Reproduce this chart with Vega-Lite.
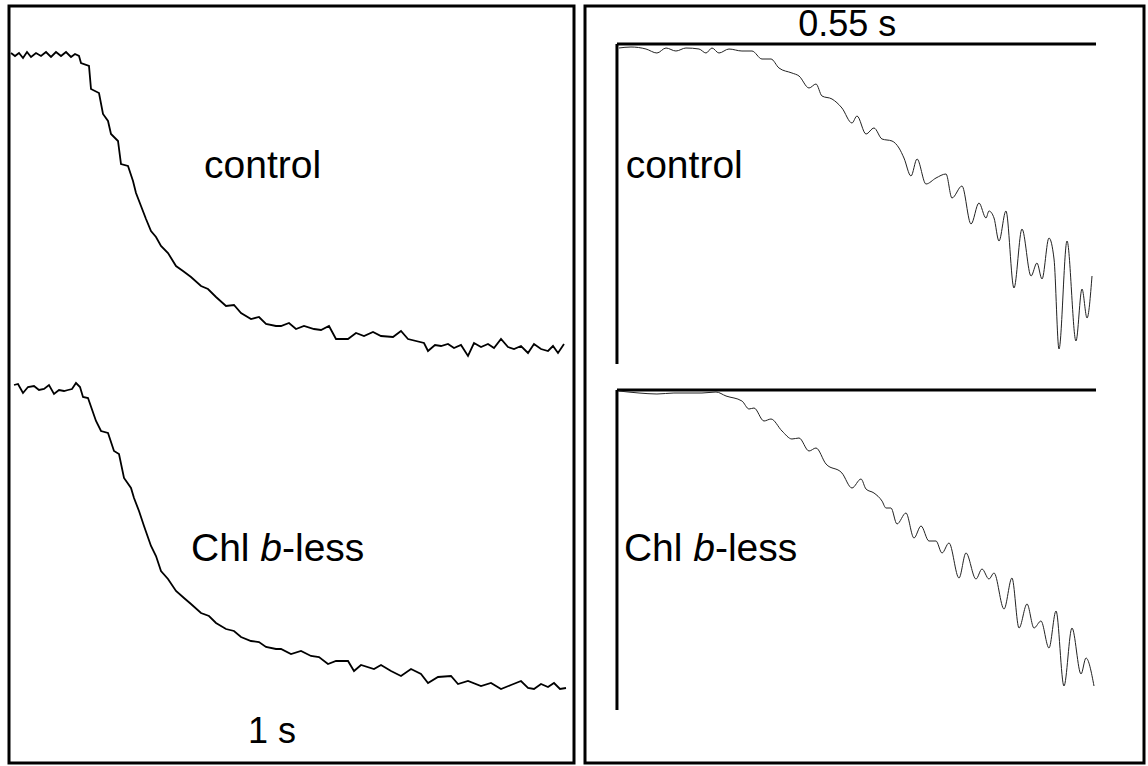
{
  "$schema": "https://vega.github.io/schema/vega-lite/v6.json",
  "background": "white",
  "padding": {"left": 5, "top": 4, "right": 0, "bottom": 0},
  "spacing": 7,
  "config": {"view": {"stroke": "black", "strokeWidth": 3}},
  "datasets": {
    "leftTraces": [
      {"trace":"control","t":0.02,"s":7.10},{"trace":"control","t":0.06,"s":7.07},{"trace":"control","t":0.10,"s":7.10},{"trace":"control","t":0.14,"s":7.05},{"trace":"control","t":0.18,"s":7.11},{"trace":"control","t":0.22,"s":7.06},{"trace":"control","t":0.27,"s":7.10},{"trace":"control","t":0.32,"s":7.07},{"trace":"control","t":0.37,"s":7.11},{"trace":"control","t":0.42,"s":7.06},{"trace":"control","t":0.47,"s":7.11},{"trace":"control","t":0.52,"s":7.07},{"trace":"control","t":0.57,"s":7.11},{"trace":"control","t":0.62,"s":7.06},{"trace":"control","t":0.66,"s":7.09},{"trace":"control","t":0.70,"s":7.07},{"trace":"control","t":0.72,"s":7.00},{"trace":"control","t":0.80,"s":6.97},{"trace":"control","t":0.82,"s":6.74},{"trace":"control","t":0.90,"s":6.70},{"trace":"control","t":0.94,"s":6.49},{"trace":"control","t":0.99,"s":6.42},{"trace":"control","t":1.02,"s":6.29},{"trace":"control","t":1.09,"s":6.22},{"trace":"control","t":1.12,"s":5.99},{"trace":"control","t":1.19,"s":5.97},{"trace":"control","t":1.24,"s":5.82},{"trace":"control","t":1.27,"s":5.70},{"trace":"control","t":1.32,"s":5.57},{"trace":"control","t":1.37,"s":5.44},{"trace":"control","t":1.42,"s":5.32},{"trace":"control","t":1.47,"s":5.26},{"trace":"control","t":1.52,"s":5.17},{"trace":"control","t":1.59,"s":5.10},{"trace":"control","t":1.67,"s":4.97},{"trace":"control","t":1.74,"s":4.92},{"trace":"control","t":1.82,"s":4.86},{"trace":"control","t":1.92,"s":4.77},{"trace":"control","t":1.99,"s":4.74},{"trace":"control","t":2.07,"s":4.66},{"trace":"control","t":2.17,"s":4.57},{"trace":"control","t":2.25,"s":4.58},{"trace":"control","t":2.32,"s":4.50},{"trace":"control","t":2.42,"s":4.44},{"trace":"control","t":2.50,"s":4.46},{"trace":"control","t":2.57,"s":4.39},{"trace":"control","t":2.67,"s":4.37},{"trace":"control","t":2.72,"s":4.37},{"trace":"control","t":2.80,"s":4.40},{"trace":"control","t":2.87,"s":4.34},{"trace":"control","t":2.95,"s":4.37},{"trace":"control","t":3.05,"s":4.34},{"trace":"control","t":3.12,"s":4.33},{"trace":"control","t":3.20,"s":4.37},{"trace":"control","t":3.27,"s":4.24},{"trace":"control","t":3.39,"s":4.24},{"trace":"control","t":3.47,"s":4.30},{"trace":"control","t":3.55,"s":4.27},{"trace":"control","t":3.64,"s":4.31},{"trace":"control","t":3.72,"s":4.27},{"trace":"control","t":3.84,"s":4.26},{"trace":"control","t":3.92,"s":4.32},{"trace":"control","t":3.99,"s":4.24},{"trace":"control","t":4.15,"s":4.20},{"trace":"control","t":4.19,"s":4.12},{"trace":"control","t":4.26,"s":4.18},{"trace":"control","t":4.32,"s":4.17},{"trace":"control","t":4.39,"s":4.19},{"trace":"control","t":4.45,"s":4.15},{"trace":"control","t":4.52,"s":4.18},{"trace":"control","t":4.59,"s":4.07},{"trace":"control","t":4.65,"s":4.20},{"trace":"control","t":4.72,"s":4.16},{"trace":"control","t":4.79,"s":4.19},{"trace":"control","t":4.85,"s":4.15},{"trace":"control","t":4.92,"s":4.24},{"trace":"control","t":4.99,"s":4.16},{"trace":"control","t":5.05,"s":4.14},{"trace":"control","t":5.12,"s":4.17},{"trace":"control","t":5.19,"s":4.10},{"trace":"control","t":5.25,"s":4.19},{"trace":"control","t":5.32,"s":4.14},{"trace":"control","t":5.39,"s":4.12},{"trace":"control","t":5.44,"s":4.17},{"trace":"control","t":5.49,"s":4.10},{"trace":"control","t":5.55,"s":4.19},
      {"trace":"chlb","t":0.05,"s":3.78},{"trace":"chlb","t":0.09,"s":3.79},{"trace":"chlb","t":0.14,"s":3.70},{"trace":"chlb","t":0.19,"s":3.76},{"trace":"chlb","t":0.25,"s":3.77},{"trace":"chlb","t":0.30,"s":3.73},{"trace":"chlb","t":0.35,"s":3.74},{"trace":"chlb","t":0.40,"s":3.78},{"trace":"chlb","t":0.45,"s":3.69},{"trace":"chlb","t":0.50,"s":3.73},{"trace":"chlb","t":0.55,"s":3.72},{"trace":"chlb","t":0.59,"s":3.73},{"trace":"chlb","t":0.63,"s":3.74},{"trace":"chlb","t":0.67,"s":3.80},{"trace":"chlb","t":0.71,"s":3.76},{"trace":"chlb","t":0.74,"s":3.66},{"trace":"chlb","t":0.79,"s":3.65},{"trace":"chlb","t":0.87,"s":3.42},{"trace":"chlb","t":0.92,"s":3.32},{"trace":"chlb","t":0.99,"s":3.30},{"trace":"chlb","t":1.05,"s":3.12},{"trace":"chlb","t":1.10,"s":3.09},{"trace":"chlb","t":1.15,"s":2.85},{"trace":"chlb","t":1.22,"s":2.75},{"trace":"chlb","t":1.25,"s":2.65},{"trace":"chlb","t":1.30,"s":2.52},{"trace":"chlb","t":1.35,"s":2.37},{"trace":"chlb","t":1.42,"s":2.17},{"trace":"chlb","t":1.47,"s":2.07},{"trace":"chlb","t":1.52,"s":1.92},{"trace":"chlb","t":1.59,"s":1.84},{"trace":"chlb","t":1.67,"s":1.72},{"trace":"chlb","t":1.75,"s":1.65},{"trace":"chlb","t":1.82,"s":1.59},{"trace":"chlb","t":1.92,"s":1.50},{"trace":"chlb","t":2.00,"s":1.47},{"trace":"chlb","t":2.07,"s":1.40},{"trace":"chlb","t":2.17,"s":1.34},{"trace":"chlb","t":2.25,"s":1.32},{"trace":"chlb","t":2.32,"s":1.26},{"trace":"chlb","t":2.42,"s":1.22},{"trace":"chlb","t":2.50,"s":1.21},{"trace":"chlb","t":2.57,"s":1.16},{"trace":"chlb","t":2.67,"s":1.14},{"trace":"chlb","t":2.72,"s":1.14},{"trace":"chlb","t":2.82,"s":1.09},{"trace":"chlb","t":2.92,"s":1.12},{"trace":"chlb","t":3.02,"s":1.07},{"trace":"chlb","t":3.10,"s":1.06},{"trace":"chlb","t":3.19,"s":0.99},{"trace":"chlb","t":3.27,"s":1.02},{"trace":"chlb","t":3.39,"s":1.02},{"trace":"chlb","t":3.45,"s":0.92},{"trace":"chlb","t":3.52,"s":0.98},{"trace":"chlb","t":3.65,"s":0.94},{"trace":"chlb","t":3.72,"s":0.98},{"trace":"chlb","t":3.82,"s":0.92},{"trace":"chlb","t":3.92,"s":0.87},{"trace":"chlb","t":4.02,"s":0.94},{"trace":"chlb","t":4.12,"s":0.89},{"trace":"chlb","t":4.19,"s":0.80},{"trace":"chlb","t":4.29,"s":0.86},{"trace":"chlb","t":4.42,"s":0.87},{"trace":"chlb","t":4.49,"s":0.79},{"trace":"chlb","t":4.59,"s":0.82},{"trace":"chlb","t":4.72,"s":0.77},{"trace":"chlb","t":4.82,"s":0.80},{"trace":"chlb","t":4.92,"s":0.74},{"trace":"chlb","t":5.02,"s":0.78},{"trace":"chlb","t":5.12,"s":0.82},{"trace":"chlb","t":5.19,"s":0.75},{"trace":"chlb","t":5.25,"s":0.74},{"trace":"chlb","t":5.32,"s":0.79},{"trace":"chlb","t":5.39,"s":0.76},{"trace":"chlb","t":5.45,"s":0.80},{"trace":"chlb","t":5.51,"s":0.74},{"trace":"chlb","t":5.57,"s":0.75}
    ],
    "rightTraces": [
      {"trace":"control","t":2.3,"s":7.15},{"trace":"control","t":16.1,"s":7.16},{"trace":"control","t":33.3,"s":7.14},{"trace":"control","t":45.9,"s":7.10},{"trace":"control","t":56.3,"s":7.15},{"trace":"control","t":67.7,"s":7.12},{"trace":"control","t":79.2,"s":7.15},{"trace":"control","t":94.2,"s":7.14},{"trace":"control","t":102.2,"s":7.10},{"trace":"control","t":109.1,"s":7.15},{"trace":"control","t":117.1,"s":7.10},{"trace":"control","t":128.6,"s":7.14},{"trace":"control","t":143.5,"s":7.12},{"trace":"control","t":155.0,"s":7.12},{"trace":"control","t":166.5,"s":7.04},{"trace":"control","t":176.8,"s":7.04},{"trace":"control","t":186.0,"s":6.95},{"trace":"control","t":200.9,"s":6.90},{"trace":"control","t":209.0,"s":6.87},{"trace":"control","t":220.5,"s":6.75},{"trace":"control","t":228.5,"s":6.79},{"trace":"control","t":235.4,"s":6.67},{"trace":"control","t":246.9,"s":6.64},{"trace":"control","t":258.3,"s":6.55},{"trace":"control","t":269.8,"s":6.40},{"trace":"control","t":275.6,"s":6.47},{"trace":"control","t":285.9,"s":6.29},{"trace":"control","t":295.1,"s":6.35},{"trace":"control","t":304.3,"s":6.24},{"trace":"control","t":315.8,"s":6.22},{"trace":"control","t":323.8,"s":6.15},{"trace":"control","t":329.5,"s":6.05},{"trace":"control","t":337.6,"s":5.87},{"trace":"control","t":344.5,"s":6.04},{"trace":"control","t":354.8,"s":5.79},{"trace":"control","t":366.3,"s":5.85},{"trace":"control","t":377.8,"s":5.89},{"trace":"control","t":384.6,"s":5.65},{"trace":"control","t":396.1,"s":5.77},{"trace":"control","t":406.5,"s":5.39},{"trace":"control","t":415.6,"s":5.60},{"trace":"control","t":423.7,"s":5.45},{"trace":"control","t":427.1,"s":5.52},{"trace":"control","t":432.9,"s":5.45},{"trace":"control","t":438.6,"s":5.22},{"trace":"control","t":446.6,"s":5.52},{"trace":"control","t":455.8,"s":4.75},{"trace":"control","t":465.0,"s":5.34},{"trace":"control","t":475.4,"s":4.87},{"trace":"control","t":482.2,"s":5.00},{"trace":"control","t":488.0,"s":4.84},{"trace":"control","t":496.0,"s":5.25},{"trace":"control","t":501.8,"s":5.04},{"trace":"control","t":507.5,"s":4.14},{"trace":"control","t":516.7,"s":5.22},{"trace":"control","t":527.0,"s":4.22},{"trace":"control","t":533.9,"s":4.74},{"trace":"control","t":539.7,"s":4.45},{"trace":"control","t":545.4,"s":4.87},
      {"trace":"chlb","t":2.3,"s":3.72},{"trace":"chlb","t":25.3,"s":3.70},{"trace":"chlb","t":45.9,"s":3.69},{"trace":"chlb","t":65.4,"s":3.70},{"trace":"chlb","t":97.6,"s":3.70},{"trace":"chlb","t":113.7,"s":3.71},{"trace":"chlb","t":125.2,"s":3.67},{"trace":"chlb","t":143.5,"s":3.62},{"trace":"chlb","t":151.6,"s":3.54},{"trace":"chlb","t":157.3,"s":3.55},{"trace":"chlb","t":168.8,"s":3.42},{"trace":"chlb","t":176.8,"s":3.44},{"trace":"chlb","t":189.5,"s":3.32},{"trace":"chlb","t":200.9,"s":3.24},{"trace":"chlb","t":209.0,"s":3.25},{"trace":"chlb","t":220.5,"s":3.12},{"trace":"chlb","t":228.5,"s":3.15},{"trace":"chlb","t":240.0,"s":2.99},{"trace":"chlb","t":258.3,"s":2.90},{"trace":"chlb","t":269.8,"s":2.75},{"trace":"chlb","t":280.2,"s":2.84},{"trace":"chlb","t":285.9,"s":2.74},{"trace":"chlb","t":295.1,"s":2.70},{"trace":"chlb","t":304.3,"s":2.62},{"trace":"chlb","t":308.9,"s":2.55},{"trace":"chlb","t":314.6,"s":2.55},{"trace":"chlb","t":321.5,"s":2.39},{"trace":"chlb","t":331.8,"s":2.50},{"trace":"chlb","t":341.0,"s":2.25},{"trace":"chlb","t":349.1,"s":2.37},{"trace":"chlb","t":358.2,"s":2.22},{"trace":"chlb","t":366.3,"s":2.22},{"trace":"chlb","t":373.2,"s":2.10},{"trace":"chlb","t":381.2,"s":2.20},{"trace":"chlb","t":392.7,"s":1.85},{"trace":"chlb","t":400.7,"s":2.10},{"trace":"chlb","t":412.2,"s":1.84},{"trace":"chlb","t":419.1,"s":1.94},{"trace":"chlb","t":427.1,"s":1.84},{"trace":"chlb","t":432.9,"s":1.90},{"trace":"chlb","t":444.4,"s":1.54},{"trace":"chlb","t":453.5,"s":1.85},{"trace":"chlb","t":461.6,"s":1.35},{"trace":"chlb","t":470.8,"s":1.59},{"trace":"chlb","t":478.8,"s":1.35},{"trace":"chlb","t":486.8,"s":1.42},{"trace":"chlb","t":496.0,"s":1.15},{"trace":"chlb","t":504.1,"s":1.52},{"trace":"chlb","t":513.2,"s":0.77},{"trace":"chlb","t":522.4,"s":1.35},{"trace":"chlb","t":532.8,"s":0.89},{"trace":"chlb","t":538.5,"s":1.05},{"trace":"chlb","t":547.7,"s":0.77}
    ],
    "rightAxes": [
      {"t1":0,"t2":0,"s1":7.19,"s2":3.99},
      {"t1":0,"t2":550,"s1":7.19,"s2":7.19},
      {"t1":0,"t2":0,"s1":3.73,"s2":0.53},
      {"t1":0,"t2":550,"s1":3.73,"s2":3.73}
    ],
    "leftText": [
      {"label":"control","t":1.95,"s":5.85},
      {"label":"Chl ","t":1.82,"s":2.02}
    ],
    "leftText2": [
      {"label":"-less","t":2.73,"s":2.02}
    ],
    "leftSmall": [
      {"label":"1 s","t":2.39,"s":0.20}
    ],
    "leftItalic": [{"label":"b","t":2.513,"s":2.02}],
    "rightText": [
      {"label":"control","t":10,"s":5.85},
      {"label":"Chl ","t":8,"s":2.02},
      {"label":"-less","t":112.5,"s":2.02}
    ],
    "rightSmall": [
      {"label":"0.55 s","t":208,"s":7.27}
    ],
    "rightItalic": [{"label":"b","t":87.6,"s":2.02}]
  },
  "hconcat": [
    {
      "width": 565,
      "height": 757,
      "layer": [
        {
          "data": {"name": "leftTraces"},
          "mark": {"type": "line", "color": "black", "strokeWidth": 1.8},
          "encoding": {
            "x": {"field": "t", "type": "quantitative", "scale": {"domain": [0, 5.65], "nice": false, "zero": false}, "axis": null},
            "y": {"field": "s", "type": "quantitative", "scale": {"domain": [0, 7.57], "nice": false, "zero": false}, "axis": null},
            "detail": {"field": "trace"}
          }
        },
        {
          "data": {"name": "leftText"},
          "mark": {"type": "text", "font": "Liberation Sans", "fontSize": 39, "align": "left", "baseline": "alphabetic", "color": "black"},
          "encoding": {
            "x": {"field": "t", "type": "quantitative", "scale": {"domain": [0, 5.65], "nice": false, "zero": false}, "axis": null},
            "y": {"field": "s", "type": "quantitative", "scale": {"domain": [0, 7.57], "nice": false, "zero": false}, "axis": null},
            "text": {"field": "label"}
          }
        },
        {
          "data": {"name": "leftText2"},
          "mark": {"type": "text", "font": "Liberation Sans", "fontSize": 39, "align": "left", "baseline": "alphabetic", "color": "black"},
          "encoding": {
            "x": {"field": "t", "type": "quantitative", "scale": {"domain": [0, 5.65], "nice": false, "zero": false}, "axis": null},
            "y": {"field": "s", "type": "quantitative", "scale": {"domain": [0, 7.57], "nice": false, "zero": false}, "axis": null},
            "text": {"field": "label"}
          }
        },
        {
          "data": {"name": "leftSmall"},
          "mark": {"type": "text", "font": "Liberation Sans", "fontSize": 36, "align": "left", "baseline": "alphabetic", "color": "black"},
          "encoding": {
            "x": {"field": "t", "type": "quantitative", "scale": {"domain": [0, 5.65], "nice": false, "zero": false}, "axis": null},
            "y": {"field": "s", "type": "quantitative", "scale": {"domain": [0, 7.57], "nice": false, "zero": false}, "axis": null},
            "text": {"field": "label"}
          }
        },
        {
          "data": {"name": "leftItalic"},
          "mark": {"type": "text", "font": "Liberation Sans", "fontSize": 39, "fontStyle": "italic", "align": "left", "baseline": "alphabetic", "color": "black"},
          "encoding": {
            "x": {"field": "t", "type": "quantitative", "scale": {"domain": [0, 5.65], "nice": false, "zero": false}, "axis": null},
            "y": {"field": "s", "type": "quantitative", "scale": {"domain": [0, 7.57], "nice": false, "zero": false}, "axis": null},
            "text": {"field": "label"}
          }
        }
      ]
    },
    {
      "width": 559,
      "height": 757,
      "layer": [
        {
          "data": {"name": "rightAxes"},
          "mark": {"type": "rule", "color": "black", "strokeWidth": 3},
          "encoding": {
            "x": {"field": "t1", "type": "quantitative", "scale": {"domain": [-36.7, 605.1], "nice": false, "zero": false}, "axis": null},
            "x2": {"field": "t2"},
            "y": {"field": "s1", "type": "quantitative", "scale": {"domain": [0, 7.57], "nice": false, "zero": false}, "axis": null},
            "y2": {"field": "s2"}
          }
        },
        {
          "data": {"name": "rightTraces"},
          "mark": {"type": "line", "color": "#222222", "strokeWidth": 1, "interpolate": "monotone"},
          "encoding": {
            "x": {"field": "t", "type": "quantitative", "scale": {"domain": [-36.7, 605.1], "nice": false, "zero": false}, "axis": null},
            "y": {"field": "s", "type": "quantitative", "scale": {"domain": [0, 7.57], "nice": false, "zero": false}, "axis": null},
            "detail": {"field": "trace"}
          }
        },
        {
          "data": {"name": "rightText"},
          "mark": {"type": "text", "font": "Liberation Sans", "fontSize": 39, "align": "left", "baseline": "alphabetic", "color": "black"},
          "encoding": {
            "x": {"field": "t", "type": "quantitative", "scale": {"domain": [-36.7, 605.1], "nice": false, "zero": false}, "axis": null},
            "y": {"field": "s", "type": "quantitative", "scale": {"domain": [0, 7.57], "nice": false, "zero": false}, "axis": null},
            "text": {"field": "label"}
          }
        },
        {
          "data": {"name": "rightSmall"},
          "mark": {"type": "text", "font": "Liberation Sans", "fontSize": 36, "align": "left", "baseline": "alphabetic", "color": "black"},
          "encoding": {
            "x": {"field": "t", "type": "quantitative", "scale": {"domain": [-36.7, 605.1], "nice": false, "zero": false}, "axis": null},
            "y": {"field": "s", "type": "quantitative", "scale": {"domain": [0, 7.57], "nice": false, "zero": false}, "axis": null},
            "text": {"field": "label"}
          }
        },
        {
          "data": {"name": "rightItalic"},
          "mark": {"type": "text", "font": "Liberation Sans", "fontSize": 39, "fontStyle": "italic", "align": "left", "baseline": "alphabetic", "color": "black"},
          "encoding": {
            "x": {"field": "t", "type": "quantitative", "scale": {"domain": [-36.7, 605.1], "nice": false, "zero": false}, "axis": null},
            "y": {"field": "s", "type": "quantitative", "scale": {"domain": [0, 7.57], "nice": false, "zero": false}, "axis": null},
            "text": {"field": "label"}
          }
        }
      ]
    }
  ]
}
